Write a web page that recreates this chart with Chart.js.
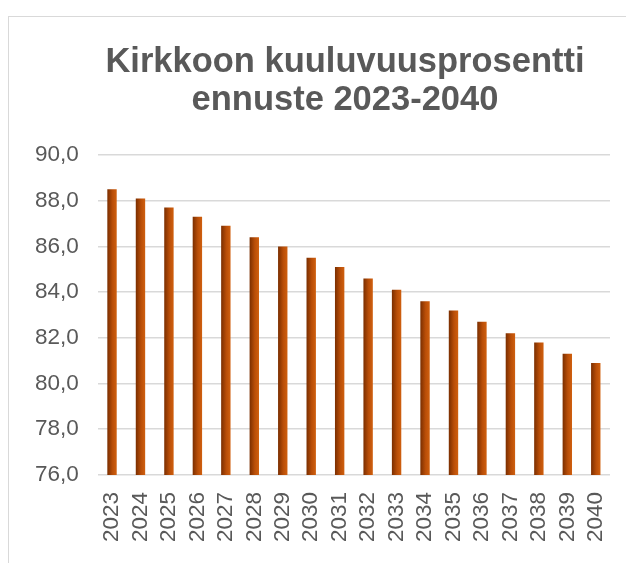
<!DOCTYPE html>
<html>
<head>
<meta charset="utf-8">
<script src="https://cdn.jsdelivr.net/npm/chart.js@4/dist/chart.umd.min.js"></script>
<style>
  html, body { margin: 0; padding: 0; background: #fff; overflow: hidden; }
  #wrap { position: relative; width: 626px; height: 563px; }
  #frame { position: absolute; left: 8px; top: 16px; width: 700px; height: 700px;
           border-left: 1.5px solid #d9d9d9; border-top: 1.5px solid #d9d9d9; }
  canvas { position: absolute; left: 0; top: 0; }
</style>
</head>
<body>
<div id="wrap">
  <div id="frame"></div>
  <canvas id="c" width="626" height="563"></canvas>
</div>
<script>
// ── data ───────────────────────────────────────────
const years  = ['2023','2024','2025','2026','2027','2028','2029','2030','2031',
                '2032','2033','2034','2035','2036','2037','2038','2039','2040'];
const shares = [88.5, 88.1, 87.7, 87.3, 86.9, 86.4, 86.0, 85.5, 85.1,
                84.6, 84.1, 83.6, 83.2, 82.7, 82.2, 81.8, 81.3, 80.9];
const titleLines = ['Kirkkoon kuuluvuusprosentti', 'ennuste 2023-2040'];

const TXT = '#595959';
const FONT = 'Liberation Sans, Arial, sans-serif';
const BAR_PCT = 0.33;

// per-bar horizontal gradient, dark left edge -> orange right edge
function barFill(ctx) {
    const chart = ctx.chart, xs = chart.scales.x;
    if (!xs || !chart.chartArea) return '#a84a0a';
    const cx = xs.getPixelForValue(ctx.dataIndex);
    const w  = xs.width / years.length * BAR_PCT;
    const g  = chart.ctx.createLinearGradient(cx - w / 2, 0, cx + w / 2, 0);
    g.addColorStop(0, '#7a2e00');
    g.addColorStop(0.55, '#b94e08');
    g.addColorStop(1, '#d0600f');
    return g;
}

// title sits a bit right of the canvas centre, like the original
const titlePlugin = {
    id: 'offTitle',
    afterDraw(chart) {
        const c = chart.ctx;
        c.save();
        c.font = 'bold 34.5px ' + FONT;
        c.fillStyle = TXT;
        c.textAlign = 'center';
        c.textBaseline = 'middle';
        titleLines.forEach((t, i) => c.fillText(t, 345, 62 + i * 38));
        c.restore();
    }
};

new Chart(document.getElementById('c'), {
    type: 'bar',
    data: {
        labels: years,
        datasets: [{ data: shares, backgroundColor: barFill, borderWidth: 0 }]
    },
    plugins: [titlePlugin],
    options: {
        responsive: false, animation: false,
        layout: { padding: { left: 16, right: 16, top: 155, bottom: 4 } },
        datasets: { bar: { categoryPercentage: 1, barPercentage: BAR_PCT } },
        plugins: {
            legend : { display: false },
            tooltip: { enabled: false },
            title  : { display: false }
        },
        scales: {
            x: {
                grid  : { display: false, drawTicks: false },
                border: { display: false },
                afterFit: s => { s.paddingRight = 0; },
                ticks : { color: TXT, minRotation: 90, maxRotation: 90, padding: 17,
                          autoSkip: false, font: { family: FONT, size: 22.5 } }
            },
            y: {
                min: 76, max: 90,
                grid  : { color: '#d9d9d9', lineWidth: 1.5, drawTicks: false },
                border: { display: false },
                ticks : { stepSize: 2, color: TXT, padding: 19,
                          font: { family: FONT, size: 22.5 },
                          callback: v => v.toFixed(1).replace('.', ',') }
            }
        }
    }
});
</script>
</body>
</html>
